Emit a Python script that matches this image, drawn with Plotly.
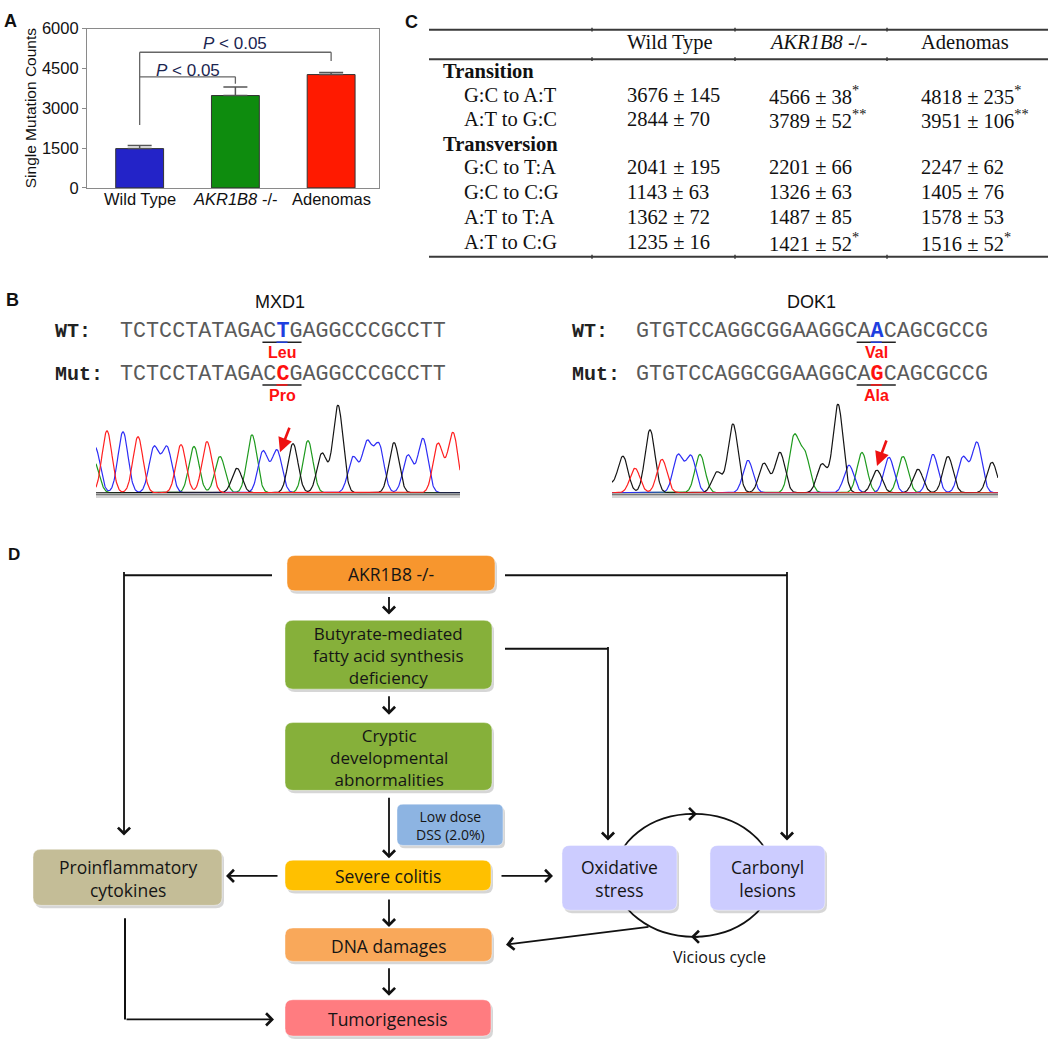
import numpy as np
import plotly.graph_objects as go

W, H = 1048, 1050

# ---------------- Panel A data ----------------
genotype_ticktext = ["Wild Type", "<i>AKR1B8</i> -/-", "Adenomas"]
single_mutation_counts = [1480, 3480, 4270]
single_mutation_err = [120, 320, 80]
bar_colors = ["#2323C8", "#0E8C0E", "#FF1A00"]
count_ticks = [0, 1500, 3000, 4500, 6000]

# ---------------- Panel C data ----------------
table_header = ["Wild Type", "<i>AKR1B8</i> -/-", "Adenomas"]
mutation_class = ["Transition", "Transition", "Transversion", "Transversion", "Transversion", "Transversion"]
mutation_type = ["G:C to A:T", "A:T to G:C", "G:C to T:A", "G:C to C:G", "A:T to T:A", "A:T to C:G"]
wt_mean = [3676, 2844, 2041, 1143, 1362, 1235]
wt_sd = [145, 70, 195, 63, 72, 16]
ko_mean = [4566, 3789, 2201, 1326, 1487, 1421]
ko_sd = [38, 52, 66, 63, 85, 52]
ko_sig = ["*", "**", "", "", "", "*"]
ad_mean = [4818, 3951, 2247, 1405, 1578, 1516]
ad_sd = [235, 106, 62, 76, 53, 52]
ad_sig = ["*", "**", "", "", "", "*"]

# ---------------- Panel B data ----------------
mxd1_wt = "TCTCCTATAGACTGAGGCCCGCCTT"
mxd1_mut = "TCTCCTATAGACCGAGGCCCGCCTT"
mxd1_site = 12
mxd1_aa = ["Leu", "Pro"]
dok1_wt = "GTGTCCAGGCGGAAGGCAACAGCGCCG"
dok1_mut = "GTGTCCAGGCGGAAGGCAGCAGCGCCG"
dok1_site = 18
dok1_aa = ["Val", "Ala"]

# chromatogram peaks (scan position, signal) per base channel
mxd1_peaks = {
    "A": ([-2, 98, 124, 156, 212], [32, 47, 37, 59, 53]),
    "C": ([-1, 27, 58, 71, 167, 181, 257, 271, 283, 312, 327], [47, 62, 46, 46, 42, 43, 36, 50, 48, 38, 55]),
    "G": ([141, 197, 226, 242, 298], [25, 50, 40, 89, 51]),
    "T": ([11, 42, 85, 111, 342, 357], [63, 57, 49, 52, 50, 61]),
}
dok1_peaks = {
    "A": ([88, 182, 193, 250, 291], [39, 56, 38, 41, 37]),
    "C": ([66, 79, 136, 237, 277, 321, 351, 365], [38, 37, 33, 28, 36, 39, 36, 51]),
    "G": ([-2, 11, 38, 105, 121, 152, 168, 210, 226, 265, 306, 336, 380], [8, 37, 64, 21, 70, 30, 41, 29, 90, 23, 24, 37, 31]),
    "T": ([23, 50], [25, 34]),
}
base_colors = {"A": "#1E9A1E", "C": "#2D2DF5", "G": "#151515", "T": "#FF2020"}

# ---------------- helpers ----------------
def X(v):
    return v / W


def Y(v):
    return 1 - v / H


shapes = []
annotations = []


def line(x0, y0, x1, y1, color="#111", width=2):
    shapes.append(dict(type="line", xref="paper", yref="paper", x0=X(x0), y0=Y(y0), x1=X(x1), y1=Y(y1),
                       line=dict(color=color, width=width)))


def text(x, y, s, size=16, color="#111", family="Liberation Sans, Arial", xanchor="center", yanchor="middle",
         angle=0, align="center"):
    annotations.append(dict(x=X(x), y=Y(y), xref="paper", yref="paper", text=s, showarrow=False,
                            font=dict(size=size, color=color, family=family), xanchor=xanchor,
                            yanchor=yanchor, textangle=angle, align=align))


def arrow(x0, y0, x1, y1, color="#111", width=1.8, head=4, size=1.3):
    annotations.append(dict(x=X(x1), y=Y(y1), xref="paper", yref="paper", ax=x0 - x1, ay=y0 - y1,
                            axref="pixel", ayref="pixel", text="", showarrow=True, arrowhead=head,
                            arrowsize=size, arrowwidth=width, arrowcolor=color, standoff=0, startstandoff=0))


def rrect(x0, y0, x1, y1, r=8):
    return (f"M{X(x0 + r)},{Y(y0)} L{X(x1 - r)},{Y(y0)} Q{X(x1)},{Y(y0)} {X(x1)},{Y(y0 + r)} "
            f"L{X(x1)},{Y(y1 - r)} Q{X(x1)},{Y(y1)} {X(x1 - r)},{Y(y1)} L{X(x0 + r)},{Y(y1)} "
            f"Q{X(x0)},{Y(y1)} {X(x0)},{Y(y1 - r)} L{X(x0)},{Y(y0 + r)} Q{X(x0)},{Y(y0)} {X(x0 + r)},{Y(y0)} Z")


def box(x0, y0, x1, y1, fill, label, size=17.5, r=8):
    shapes.append(dict(type="path", xref="paper", yref="paper", path=rrect(x0 + 2, y0 + 3, x1 + 2, y1 + 3, r),
                       fillcolor="rgba(0,0,0,0.16)", line=dict(width=0)))
    shapes.append(dict(type="path", xref="paper", yref="paper", path=rrect(x0, y0, x1, y1, r),
                       fillcolor=fill, line=dict(width=0.6, color="rgba(255,255,255,0.7)")))
    text((x0 + x1) / 2, (y0 + y1) / 2 + 1, label, size=size, color="#151515", family="Open Sans, Lato, sans-serif")


fig = go.Figure()

# ================= Panel A =================
fig.add_trace(go.Bar(
    x=[0, 1, 2], y=single_mutation_counts, width=0.5, marker=dict(color=bar_colors, line=dict(color="#333", width=1)),
    error_y=dict(type="data", array=single_mutation_err, arrayminus=[0, 0, 0], symmetric=False,
                 color="#555", thickness=1.5, width=12),
    xaxis="x2", yaxis="y2", showlegend=False, hoverinfo="skip"))

FA = "Liberation Sans, Arial"
fig.update_layout(
    xaxis2=dict(domain=[X(87), X(379)], range=[-0.55, 2.5], tickvals=[0, 1, 2], showticklabels=False,
                showline=True, mirror=True, linecolor="#8a8a8a", linewidth=1.2, ticks="", showgrid=False,
                zeroline=False, anchor="y2", fixedrange=True),
    yaxis2=dict(domain=[Y(182), Y(20)], range=[0, 6000], tickvals=count_ticks, ticks="outside", ticklen=4,
                tickcolor="#8a8a8a", showline=True, mirror=True, linecolor="#8a8a8a", linewidth=1.2,
                showgrid=False, zeroline=False, anchor="x2", tickfont=dict(size=16.5, color="#111", family=FA),
                fixedrange=True),
)
# category labels placed just under the axis (as in the original)
for i, lab in enumerate(genotype_ticktext):
    annotations.append(dict(x=i, y=Y(193), xref="x2", yref="paper", text=lab, showarrow=False,
                            yanchor="middle", font=dict(size=16.5, color="#111", family=FA)))
text(30, 101, "Single Mutation Counts", size=15.5, angle=-90, family=FA)

# significance brackets (in panel A data coordinates)
br = dict(xref="x2", yref="y2", line=dict(color="#666", width=1.3))
shapes += [
    dict(type="line", x0=0, x1=0, y0=2370, y1=5111, **br),
    dict(type="line", x0=0, x1=1, y0=4185, y1=4185, **br),
    dict(type="line", x0=1, x1=1, y0=4185, y1=3926, **br),
    dict(type="line", x0=0, x1=2, y0=5111, y1=5111, **br),
    dict(type="line", x0=2, x1=2, y0=5111, y1=4778, **br),
]
for xx, yy in [(0.5, 4440), (1.0, 5450)]:
    annotations.append(dict(x=xx, y=yy, xref="x2", yref="y2", text="<i>P</i> < 0.05", showarrow=False,
                            font=dict(size=17, color="#1B2550", family=FA)))

# panel letters
text(10, 12, "<b>A</b>", size=18, family=FA)
text(411, 13, "<b>C</b>", size=18, family=FA)
text(12, 296, "<b>B</b>", size=18, family=FA)
text(14, 555, "<b>D</b>", size=17, family=FA)

# ================= Panel C (table) =================
FS = "Liberation Serif, Times New Roman, serif"
for yy in (21, 51, 252):
    line(429, yy, 1048, yy, color="#3a3a3a", width=2)
    for tx in (592, 735, 887):
        line(tx, yy - 2, tx, yy + 2, color="#3a3a3a", width=1.5)
col_x = [625, 767, 919]
for cx, h in zip(col_x, table_header):
    text(cx, 34, h, size=20.5, family=FS, xanchor="left")

row_y = [87, 112, 161, 186, 212, 237]
section_y = {"Transition": 63, "Transversion": 137}
for name, sy in section_y.items():
    text(441, sy, "<b>" + name + "</b>", size=20.5, family=FS, xanchor="left")
for i, yy in enumerate(row_y):
    text(462, yy, mutation_type[i], size=20.5, family=FS, xanchor="left")
    vals = [f"{wt_mean[i]} ± {wt_sd[i]}",
            f"{ko_mean[i]} ± {ko_sd[i]}" + (f"<sup>{ko_sig[i]}</sup>" if ko_sig[i] else ""),
            f"{ad_mean[i]} ± {ad_sd[i]}" + (f"<sup>{ad_sig[i]}</sup>" if ad_sig[i] else "")]
    for cx, v in zip(col_x, vals):
        text(cx, yy, v, size=20.5, family=FS, xanchor="left")

# ================= Panel B =================
FM = "Liberation Mono, Courier New, monospace"
CW = 13.04
MONO = CW / 0.6


def seq_panel(title, tx, lx, sx, wt, mut, site, aa, y_wt, y_mut, y_aa1, y_aa2):
    text(tx, 298, title, size=18, family=FA)
    text(lx, y_wt, "<b>WT:</b>", size=20, family=FM, xanchor="left", color="#222")
    text(lx, y_mut, "<b>Mut:</b>", size=20, family=FM, xanchor="left", color="#222")
    for seq, yy, col in ((wt, y_wt, "#1F3FE0"), (mut, y_mut, "#FF1010")):
        s = (f"{seq[:site]}<span style='color:{col}'><b>{seq[site]}</b></span>{seq[site + 1:]}")
        text(sx - 1, yy, s, size=MONO, family=FM, xanchor="left", color="#5a5a5a")
    cx = sx + (site + 0.5) * CW
    for yy, col in ((y_wt + 11, "#1F3FE0"), (y_mut + 11, "#FF1010")):
        line(sx + (site - 1) * CW, yy, sx + (site + 2) * CW, yy, color="#222", width=1.5)
        line(sx + site * CW + 1, yy, sx + (site + 1) * CW - 1, yy, color=col, width=1.5)
    text(cx, y_aa1, "<b>" + aa[0] + "</b>", size=16, color="#FF1010", family=FA)
    text(cx, y_aa2, "<b>" + aa[1] + "</b>", size=16, color="#FF1010", family=FA)


seq_panel("MXD1", 280, 53, 119, mxd1_wt, mxd1_mut, mxd1_site, mxd1_aa, 328, 371.5, 350, 393.5)
seq_panel("DOK1", 811, 570, 635, dok1_wt, dok1_mut, dok1_site, dok1_aa, 328, 371.5, 350, 393.5)


def chromatogram(peaks, xa, ya, span, sigma=5.0):
    xs = np.arange(0, span + 0.25, 0.5)
    for b in "ACGT":
        pos, hts = peaks[b]
        ys = np.zeros_like(xs)
        for p, h in zip(pos, hts):
            ys += h * np.exp(-((xs - p) ** 2) / (2 * sigma ** 2))
        fig.add_trace(go.Scatter(x=xs, y=ys + 0.8, mode="lines", line=dict(color=base_colors[b], width=1.2),
                                 xaxis=xa, yaxis=ya, showlegend=False, hoverinfo="skip"))


chromatogram(mxd1_peaks, "x3", "y3", 364)
chromatogram(dok1_peaks, "x4", "y4", 386)
ax_common = dict(visible=False, fixedrange=True)
fig.update_layout(
    xaxis3=dict(domain=[X(96), X(460)], range=[0, 364], anchor="y3", **ax_common),
    yaxis3=dict(domain=[Y(493), Y(393)], range=[0, 100], anchor="x3", **ax_common),
    xaxis4=dict(domain=[X(612), X(998)], range=[0, 386], anchor="y4", **ax_common),
    yaxis4=dict(domain=[Y(493), Y(393)], range=[0, 100], anchor="x4", **ax_common),
)
for a, b in ((96, 460), (612, 998)):
    line(a, 494, b, 494, color="#7a7a7a", width=2)
    line(a, 496.5, b, 496.5, color="#d5d5d5", width=2)
arrow(290, 425, 280, 451, color="#EE1111", width=2.6, head=2, size=1.1)
arrow(887, 438, 877, 465, color="#EE1111", width=2.6, head=2, size=1.1)

# ================= Panel D (flowchart) =================
# vicious-cycle ellipse first (hidden behind boxes)
shapes.append(dict(type="circle", xref="paper", yref="paper", x0=X(615), x1=X(773), y0=Y(819), y1=Y(944),
                   line=dict(color="#111", width=1.8)))
box(287, 556, 495, 592, "#F7962E", "AKR1B8 -/-")
box(285, 622, 492, 692, "#86B03A", "Butyrate-mediated<br>fatty acid synthesis<br>deficiency", size=17)
box(285, 726, 492, 795, "#86B03A", "Cryptic<br>developmental<br>abnormalities", size=17)
box(397, 809, 503, 851, "#8DB4E2", "Low dose<br>DSS (2.0%)", size=14, r=6)
box(285, 866, 491, 897, "#FFC000", "Severe colitis")
box(33, 855, 222, 912, "#C4BD97", "Proinflammatory<br>cytokines")
box(562, 851, 677, 917, "#CCCCFF", "Oxidative<br>stress")
box(710, 851, 825, 917, "#CCCCFF", "Carbonyl<br>lesions")
box(285, 935, 492, 969, "#F9A85A", "DNA damages")
box(285, 1008, 491, 1045, "#FF7C80", "Tumorigenesis")

# connectors
line(272, 576, 124, 576)
arrow(124, 576, 124, 841)
line(505, 576, 787, 576)
arrow(787, 576, 787, 846)
line(505, 651, 608, 651)
arrow(608, 651, 608, 846)
arrow(389, 597, 389, 616)
arrow(389, 698, 389, 718)
arrow(389, 802, 389, 864)
arrow(279, 882, 226, 882)
arrow(500, 882, 553, 882)
arrow(389, 905, 389, 934)
arrow(389, 975, 389, 1004)
line(125, 925, 125, 1028)
arrow(125, 1028, 274, 1028)
arrow(650, 934, 506, 952)
arrow(688, 819, 697, 819, head=4, size=1.3)
arrow(700, 944, 691, 944, head=4, size=1.3)
text(719, 965, "Vicious cycle", size=16, family="Open Sans, Lato, sans-serif")

fig.update_layout(
    width=W, height=H, margin=dict(l=0, r=0, t=0, b=0), paper_bgcolor="white", plot_bgcolor="white",
    shapes=shapes, annotations=annotations, showlegend=False,
    xaxis=dict(visible=False), yaxis=dict(visible=False),
)
fig.write_html("out.html", config={"displayModeBar": False},
               post_script="document.body.style.margin='0px';")
